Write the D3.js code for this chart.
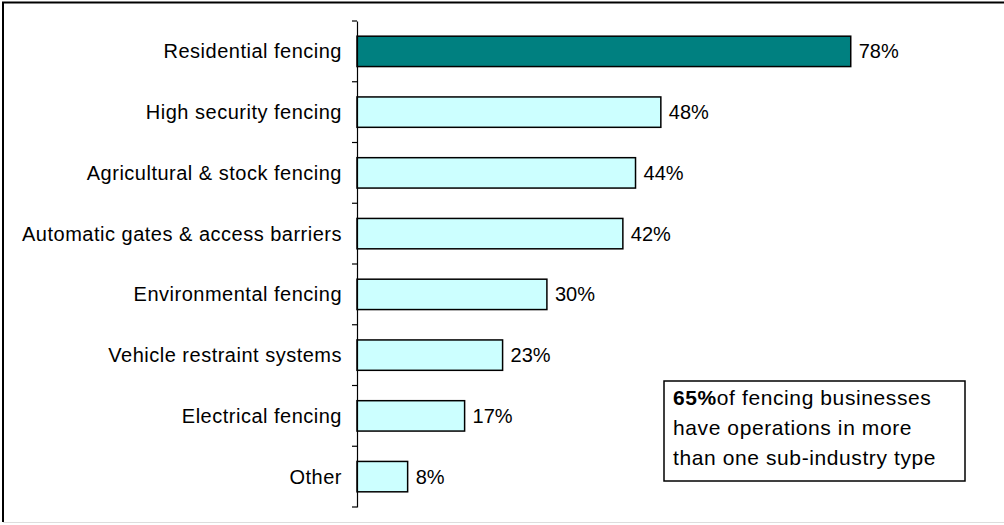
<!DOCTYPE html>
<html><head><meta charset="utf-8">
<script src="https://cdn.jsdelivr.net/npm/d3@7/dist/d3.min.js"></script>
<style>body{margin:0;background:#fff}svg{display:block}text{font-family:Arial,"Liberation Sans",sans-serif}</style>
</head><body>
<script>
const categories = ["Residential fencing","High security fencing","Agricultural & stock fencing","Automatic gates & access barriers","Environmental fencing","Vehicle restraint systems","Electrical fencing","Other"];
const values = [78,48,44,42,30,23,17,8];
const valueLabels = ["78%","48%","44%","42%","30%","23%","17%","8%"];
const highlight = [true,false,false,false,false,false,false,false];
const noteBold = "65%";
const noteLines = ["of fencing businesses","have operations in more","than one sub-industry type"];

const W=1004,H=525;
const svg=d3.select("body").append("svg").attr("width",W).attr("height",H);
// outer frame
svg.append("line").attr("x1",2).attr("x2",W).attr("y1",2.5).attr("y2",2.5).attr("stroke","#000").attr("stroke-width",2);
svg.append("line").attr("x1",3).attr("x2",3).attr("y1",2).attr("y2",522).attr("stroke","#000").attr("stroke-width",2);
svg.append("line").attr("x1",3).attr("x2",W).attr("y1",522.5).attr("y2",522.5).attr("stroke","#ddd").attr("stroke-width",1);

const x=d3.scaleLinear().domain([0,100]).range([357,990]);
const y=d3.scaleBand().domain(categories).range([21,507]).paddingInner(0.5).paddingOuter(0.25);
const yb=d3.scaleBand().domain(categories).range([21,507]);

// bars
svg.selectAll("rect.bar").data(categories).enter().append("rect")
 .attr("x",x(0)).attr("y",d=>y(d)).attr("height",y.bandwidth())
 .attr("width",(d,i)=>x(values[i])-x(0))
 .attr("fill",(d,i)=>highlight[i]?"#008080":"#CCFFFF")
 .attr("stroke","#000").attr("stroke-width",1.5);

// value labels
svg.selectAll("text.val").data(categories).enter().append("text")
 .attr("x",(d,i)=>x(values[i])+8).attr("y",d=>y(d)+y.bandwidth()/2+7)
 .attr("font-size",20).attr("fill","#000").text((d,i)=>valueLabels[i]);

// axis
const ax=svg.append("g").attr("transform",`translate(${x(0)},0)`)
 .call(d3.axisLeft(yb).tickSize(0).tickFormat(""));
ax.select(".domain").attr("stroke","#000").attr("stroke-width",1.2);
const bounds=categories.map(c=>yb(c)).concat([yb.range()[1]]);
svg.selectAll("line.tk").data(bounds).enter().append("line")
 .attr("x1",x(0)-5).attr("x2",x(0)).attr("y1",d=>d).attr("y2",d=>d)
 .attr("stroke","#000").attr("stroke-width",1.2);
svg.selectAll("text.cat").data(categories).enter().append("text")
 .attr("x",342).attr("y",d=>yb(d)+yb.bandwidth()/2+7).attr("text-anchor","end")
 .attr("font-size",20).attr("letter-spacing","0.5px").attr("fill","#000").text(d=>d);

// note box
const bx=664,by=381,bw=301,bh=100;
svg.append("rect").attr("x",bx).attr("y",by).attr("width",bw).attr("height",bh)
 .attr("fill","#fff").attr("stroke","#000").attr("stroke-width",1.5);
const t=svg.append("text").attr("x",bx+9).attr("y",by+24).attr("font-size",21).attr("letter-spacing","0.6px").attr("fill","#000");
t.append("tspan").attr("font-weight","bold").text(noteBold);
t.append("tspan").text(noteLines[0]);
noteLines.slice(1).forEach((l,i)=>{
 svg.append("text").attr("x",bx+9).attr("y",by+24+30*(i+1)).attr("font-size",21).attr("letter-spacing","0.6px").attr("fill","#000").text(l);
});
</script>
</body></html>
